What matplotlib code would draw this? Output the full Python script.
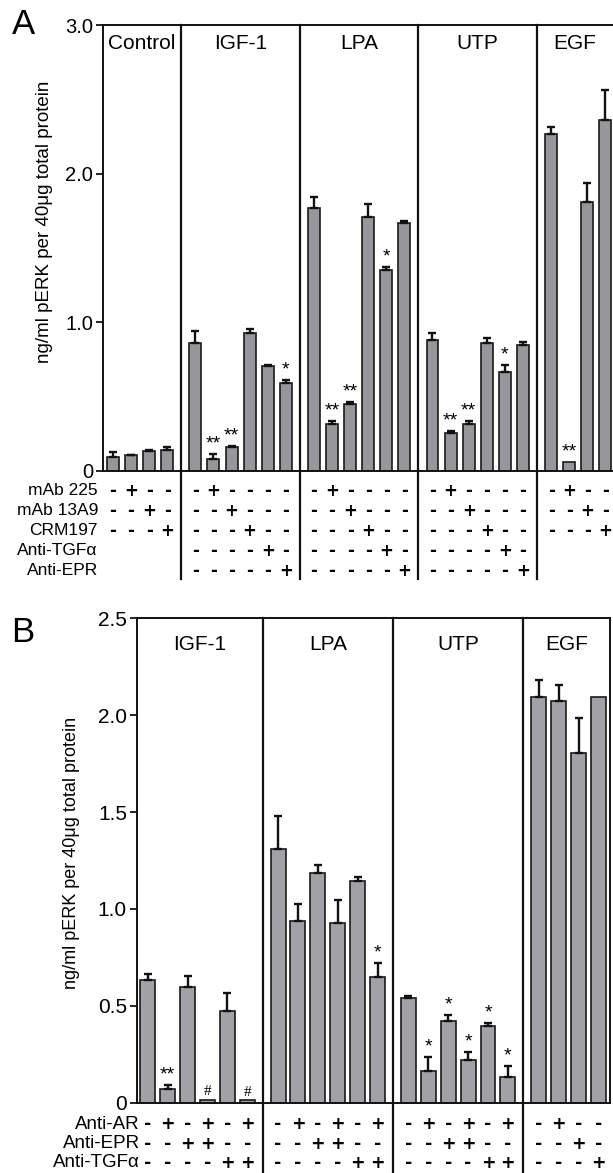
import matplotlib
matplotlib.use('Agg')
import matplotlib.pyplot as plt
import matplotlib.transforms as mtransforms
import numpy as np

plt.rcParams['font.family'] = ['Liberation Sans', 'DejaVu Sans']

# ---- panel A data ----
A_GROUPS = ["Control", "IGF-1", "LPA", "UTP", "EGF"]
A_CONTROL = [0.096, 0.105, 0.132, 0.143]
A_CONTROL_ERR = [0.029, 0.005, 0.008, 0.020]
A_IGF = [0.864, 0.083, 0.161, 0.931, 0.707, 0.593]
A_IGF_ERR = [0.078, 0.033, 0.009, 0.022, 0.008, 0.018]
A_LPA = [1.767, 0.313, 0.452, 1.711, 1.354, 1.667]
A_LPA_ERR = [0.074, 0.023, 0.013, 0.085, 0.017, 0.013]
A_UTP = [0.879, 0.253, 0.313, 0.861, 0.664, 0.846]
A_UTP_ERR = [0.052, 0.017, 0.025, 0.034, 0.052, 0.022]
A_EGF = [2.266, 0.062, 1.807, 2.360]
A_EGF_ERR = [0.045, 0.0, 0.128, 0.202]

A_STARS = [["", "", "", ""],
           ["", "**", "**", "", "", "*"],
           ["", "**", "**", "", "*", ""],
           ["", "**", "**", "", "*", ""],
           ["", "**", "", ""]]

A_ROWS = ["mAb 225", "mAb 13A9", "CRM197", "Anti-TGF\u03b1", "Anti-EPR"]
A_SIGNS_4 = ["-+--", "--+-", "---+"]
A_SIGNS_6 = ["-+----", "--+---", "---+--", "----+-", "-----+"]
A_SIGNS = [A_SIGNS_4, A_SIGNS_6, A_SIGNS_6, A_SIGNS_6, A_SIGNS_4]
A_TICKS = [0, 1.0, 2.0, 3.0]
A_TICKLABELS = ["0", "1.0", "2.0", "3.0"]

# ---- panel B data ----
B_GROUPS = ["IGF-1", "LPA", "UTP", "EGF"]
B_IGF = [0.632, 0.071, 0.598, 0.015, 0.474, 0.012]
B_IGF_ERR = [0.031, 0.020, 0.055, 0.0, 0.090, 0.0]
B_LPA = [1.311, 0.937, 1.186, 0.925, 1.144, 0.649]
B_LPA_ERR = [0.167, 0.087, 0.039, 0.120, 0.021, 0.073]
B_UTP = [0.541, 0.165, 0.421, 0.220, 0.397, 0.134]
B_UTP_ERR = [0.009, 0.072, 0.031, 0.043, 0.015, 0.057]
B_EGF = [2.093, 2.071, 1.804, 2.096]
B_EGF_ERR = [0.091, 0.086, 0.181, 0.0]

B_STARS = [["", "**", "", "#", "", "#"],
           ["", "", "", "", "", "*"],
           ["", "*", "*", "*", "*", "*"],
           ["", "", "", ""]]

B_ROWS = ["Anti-AR", "Anti-EPR", "Anti-TGF\u03b1"]
B_SIGNS_6 = ["-+-+-+", "--++--", "----++"]
B_SIGNS_4 = ["-+--", "--+-", "---+"]
B_SIGNS = [B_SIGNS_6, B_SIGNS_6, B_SIGNS_6, B_SIGNS_4]
B_TICKS = [0, 0.5, 1.0, 1.5, 2.0, 2.5]
B_TICKLABELS = ["0", "0.5", "1.0", "1.5", "2.0", "2.5"]

YLABEL = "ng/ml pERK per 40\u03bcg total protein"
GAP = 0.55


def bar_positions(groups_vals):
    pos = []
    start = 0.0
    for vals in groups_vals:
        pos.append(start + np.arange(len(vals)))
        start += len(vals) + GAP
    return pos


def draw_panel(ax, names, means, errs, stars, signs, rows, cfg):
    pos = bar_positions(means)
    for x, m, e, st in zip(pos, means, errs, stars):
        m = np.array(m)
        e = np.array(e)
        ax.bar(x, m, width=cfg['width'], color=cfg['color'], edgecolor='#1a1a1a',
               linewidth=1.2, zorder=2)
        has = e > 0
        ax.errorbar(x[has], m[has], yerr=[np.zeros(has.sum()), e[has]], fmt='none',
                    ecolor='#111111', elinewidth=1.7, capsize=2.6, capthick=1.7, zorder=3)
        for xi, mi, ei, s in zip(x, m, e, st):
            if s:
                fam = ['Liberation Serif'] if s == '#' else None
                size = cfg['star'] - 3 if s == '#' else cfg['star']
                ax.annotate(s, (xi, mi + ei), xytext=(0, 1), textcoords='offset points',
                            ha='center', va='bottom', fontsize=size, family=fam)

    trans = mtransforms.blended_transform_factory(ax.transData, ax.transAxes)
    # dividers between groups, running down through the table
    for i in range(len(pos) - 1):
        d = (pos[i][-1] + pos[i + 1][0]) / 2
        ax.plot([d, d], [1, cfg['div_bottom']], transform=trans, color='#111111',
                lw=1.6, clip_on=False, zorder=4)

    # group names
    edges = [ax.get_xlim()[0]]
    for i in range(len(pos) - 1):
        edges.append((pos[i][-1] + pos[i + 1][0]) / 2)
    edges.append(ax.get_xlim()[1])
    for i, name in enumerate(names):
        ax.text((edges[i] + edges[i + 1]) / 2, cfg['name_y'], name, transform=trans,
                ha='center', va='center', fontsize=cfg['name_size'])

    # treatment table
    for r, lab in enumerate(rows):
        yy = cfg['row0'] - r * cfg['row_step']
        ax.text(cfg['label_x'], yy, lab, transform=trans, ha='right', va='center',
                fontsize=cfg['row_size'])
    for x, sg in zip(pos, signs):
        for r, line in enumerate(sg):
            yy = cfg['row0'] - r * cfg['row_step']
            for xi, ch in zip(x, line):
                ax.text(xi, yy, '+' if ch == '+' else '-', transform=trans, ha='center',
                        va='center', fontsize=cfg['sign_size'], fontweight='bold',
                        family=['DejaVu Sans'])

    ax.set_ylim(0, cfg['ymax'])
    ax.set_yticks(cfg['ticks'])
    ax.set_yticklabels(cfg['ticklabels'])
    ax.set_xticks([])
    ax.tick_params(axis='y', length=5, width=1.2, labelsize=cfg['tick_size'], pad=2)
    for s in ax.spines.values():
        s.set_linewidth(1.4)
        s.set_color('#111111')
    ax.text(cfg['ylab_x'], cfg['ylab_y'], YLABEL, transform=ax.transAxes, rotation=90,
            ha='center', va='center', fontsize=cfg['ylab_size'])


fig = plt.figure(figsize=(6.13, 11.73), dpi=100)

axA = fig.add_axes([103 / 613, 1 - 471 / 1173, 510 / 613, 446 / 1173])
axA.set_xlim(-0.55, 27.62)
axA.spines['right'].set_visible(False)
cfgA = dict(width=0.66, color='#97979b', star=14, div_bottom=-0.242, name_y=0.958,
            name_size=15, row0=-0.044, row_step=0.045, label_x=-0.83, row_size=12.5,
            sign_size=12, ymax=3.0, ticks=A_TICKS, ticklabels=A_TICKLABELS,
            tick_size=14.5, ylab_x=-0.114, ylab_y=0.558, ylab_size=13.5)
draw_panel(axA, A_GROUPS,
           [A_CONTROL, A_IGF, A_LPA, A_UTP, A_EGF],
           [A_CONTROL_ERR, A_IGF_ERR, A_LPA_ERR, A_UTP_ERR, A_EGF_ERR],
           A_STARS, A_SIGNS, A_ROWS, cfgA)

axB = fig.add_axes([136.7 / 613, 1 - 1102.7 / 1173, 473.3 / 613, 484.4 / 1173])
axB.set_xlim(-0.553, 23.23)
cfgB = dict(width=0.75, color='#a2a2a6', star=14, div_bottom=-0.16, name_y=0.945,
            name_size=15, row0=-0.045, row_step=0.0395, label_x=-0.39, row_size=13.5,
            sign_size=12.5, ymax=2.5, ticks=B_TICKS, ticklabels=B_TICKLABELS,
            tick_size=15, ylab_x=-0.137, ylab_y=0.515, ylab_size=13)
draw_panel(axB, B_GROUPS,
           [B_IGF, B_LPA, B_UTP, B_EGF],
           [B_IGF_ERR, B_LPA_ERR, B_UTP_ERR, B_EGF_ERR],
           B_STARS, B_SIGNS, B_ROWS, cfgB)

fig.text(23 / 613, 1 - 24 / 1173, "A", fontsize=25, ha='center', va='center')
fig.text(23 / 613, 1 - 632 / 1173, "B", fontsize=25, ha='center', va='center')

fig.savefig("out.png", dpi=100)
